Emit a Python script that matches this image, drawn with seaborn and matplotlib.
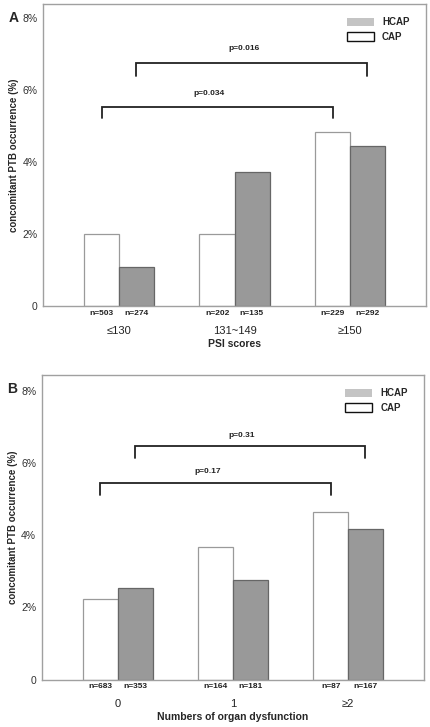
import numpy as np
import pandas as pd
import matplotlib
matplotlib.use("Agg")
import matplotlib.pyplot as plt
import matplotlib.patches as mpatches
import seaborn as sns

# ============================================================
# Data
# ============================================================
groups = ["CAP", "HCAP"]

psi_cats = ["\u2264130", "131~149", "\u2265150"]
psi_cap = [2.0, 2.0, 4.85]
psi_hcap = [1.1, 3.72, 4.45]
psi_n_cap = ["n=503", "n=202", "n=229"]
psi_n_hcap = ["n=274", "n=135", "n=292"]

org_cats = ["0", "1", "\u22652"]
org_cap = [2.23, 3.68, 4.63]
org_hcap = [2.53, 2.75, 4.17]
org_n_cap = ["n=683", "n=164", "n=87"]
org_n_hcap = ["n=353", "n=181", "n=167"]

sns.set_style("white")
plt.rcParams['font.family'] = ['Arial', 'Liberation Sans', 'DejaVu Sans']

fig = plt.figure(figsize=(4.30, 7.27), dpi=100)
ax_a = fig.add_axes([0.100, 0.5787, 0.8907, 0.4158])
ax_b = fig.add_axes([0.097, 0.0652, 0.8891, 0.4190])

bar_gray = "#999999"
spine_gray = "#a0a0a0"


def draw_panel(ax, cats, cap, hcap, n_cap, n_hcap, xlabel, letter, brackets, ytop):
    df = pd.DataFrame({
        "cat": cats * 2,
        "group": ["CAP"] * len(cats) + ["HCAP"] * len(cats),
        "value": cap + hcap,
    })
    sns.barplot(data=df, x="cat", y="value", hue="group", hue_order=groups,
                order=cats, palette={"CAP": "white", "HCAP": bar_gray},
                width=0.61, errorbar=None, legend=False, ax=ax, saturation=1)
    for p in ax.patches:
        if p.get_facecolor()[0] > 0.9:
            p.set_edgecolor("#9a9a9a")
        else:
            p.set_edgecolor("#666666")
        p.set_linewidth(0.9)

    ax.set_xlim(-0.66, len(cats) - 1 + 0.66)
    ax.set_ylim(0, ytop)
    ax.set_yticks([0, 2, 4, 6, 8])
    ax.set_yticklabels(["0", "2%", "4%", "6%", "8%"], fontsize=7.5, color="#333333")
    ax.tick_params(axis="y", direction="out", length=3, width=0.8, color=spine_gray, pad=1)
    ax.set_xticks(range(len(cats)))
    ax.set_xticklabels(cats, fontsize=8, color="#222222")
    ax.tick_params(axis="x", direction="out", length=3, width=0.8, color="#666666", pad=11)
    for s in ax.spines.values():
        s.set_color(spine_gray)
        s.set_linewidth(1.0)

    ax.set_xlabel(xlabel, fontsize=7.5, fontweight="bold", labelpad=2)
    ax.set_ylabel("concomitant PTB occurrence (%)", fontsize=7, fontweight="bold")
    ax.yaxis.set_label_coords(-0.062, 0.5)

    trans = ax.get_xaxis_transform()
    for i in range(len(cats)):
        ax.text(i - 0.15, -0.012, n_cap[i], transform=trans, ha="center", va="top",
                fontsize=6, fontweight="bold", color="#222222")
        ax.text(i + 0.15, -0.012, n_hcap[i], transform=trans, ha="center", va="top",
                fontsize=6, fontweight="bold", color="#222222")

    for (x0, x1, y, leg, ptxt, ty) in brackets:
        ax.plot([x0, x0, x1, x1], [leg, y, y, leg], color="#222222", lw=1.3,
                solid_joinstyle="miter")
        ax.text((x0 + x1) / 2 - 0.07, ty, ptxt, ha="center", va="center",
                fontsize=6, fontweight="bold", color="#222222")

    handles = [mpatches.Patch(facecolor="#c4c4c4", edgecolor="none", label="HCAP"),
               mpatches.Patch(facecolor="white", edgecolor="#111111", lw=1.0, label="CAP")]
    ax.legend(handles=handles, loc="upper right", frameon=False,
              prop={"weight": "bold", "size": 7},
              handlelength=2.8, handleheight=1.0, handletextpad=0.8,
              bbox_to_anchor=(0.98, 0.985), labelspacing=0.5)

    ax.text(-0.09, 0.953, letter, transform=ax.transAxes, fontsize=10,
            fontweight="bold", ha="left", va="center")


draw_panel(ax_a, psi_cats, psi_cap, psi_hcap, psi_n_cap, psi_n_hcap,
           "PSI scores", "A",
           [(-0.15, 1.85, 5.54, 5.24, "p=0.034", 5.92),
            (0.15, 2.15, 6.75, 6.4, "p=0.016", 7.17)],
           8.40)
draw_panel(ax_b, org_cats, org_cap, org_hcap, org_n_cap, org_n_hcap,
           "Numbers of organ dysfunction", "B",
           [(-0.15, 1.85, 5.43, 5.1, "p=0.17", 5.75),
            (0.15, 2.15, 6.46, 6.13, "p=0.31", 6.75)],
           8.43)

fig.savefig("out.png", dpi=100)
